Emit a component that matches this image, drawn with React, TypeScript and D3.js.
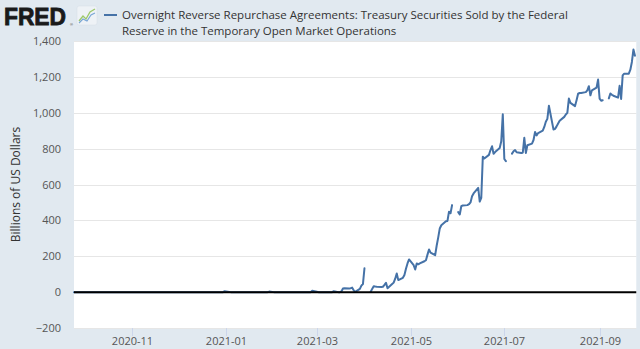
import React from "react";
import * as d3 from "d3";

type Pt = [string, number | null];

// Sep 2020 - Feb 2021: essentially zero, with small quarter/month-end blips
const late2020: Pt[] = [
  ["2020-09-24", 0], ["2020-10-01", 0], ["2020-10-08", 0], ["2020-10-15", 0], ["2020-10-22", 0],
  ["2020-10-29", 0], ["2020-11-05", 0], ["2020-11-12", 0], ["2020-11-19", 0], ["2020-11-27", 0],
  ["2020-12-03", 0], ["2020-12-10", 0], ["2020-12-17", 0], ["2020-12-24", 0], ["2020-12-30", 0],
  ["2020-12-31", 5],
];

const q1_2021: Pt[] = [
  ["2021-01-04", 0], ["2021-01-11", 0], ["2021-01-19", 0], ["2021-01-26", 0], ["2021-01-28", 0],
  ["2021-01-29", 3], ["2021-02-01", 0], ["2021-02-08", 0], ["2021-02-16", 0], ["2021-02-23", 0],
  ["2021-02-25", 0], ["2021-02-26", 8], ["2021-03-01", 2], ["2021-03-02", 0], ["2021-03-09", 0],
  ["2021-03-11", 0], ["2021-03-12", 5], ["2021-03-15", 0], ["2021-03-16", 0], ["2021-03-17", 4],
  ["2021-03-18", 20], ["2021-03-19", 22], ["2021-03-22", 20], ["2021-03-23", 22], ["2021-03-24", 25],
  ["2021-03-25", 10], ["2021-03-26", 1], ["2021-03-29", 18], ["2021-03-30", 36], ["2021-03-31", 45],
];

const apr_may_2021: Pt[] = [
  ["2021-04-01", 133], ["2021-04-02", null],
  ["2021-04-05", 1], ["2021-04-06", 18], ["2021-04-07", 33], ["2021-04-08", 31], ["2021-04-09", 30],
  ["2021-04-12", 29], ["2021-04-13", 30], ["2021-04-14", 40], ["2021-04-15", 52], ["2021-04-16", 22],
  ["2021-04-19", 45], ["2021-04-20", 53], ["2021-04-21", 75], ["2021-04-22", 104], ["2021-04-23", 67],
  ["2021-04-26", 80], ["2021-04-27", 95], ["2021-04-28", 130], ["2021-04-29", 160], ["2021-04-30", 182],
  ["2021-05-03", 150], ["2021-05-04", 126], ["2021-05-05", 160], ["2021-05-06", 155], ["2021-05-07", 160],
  ["2021-05-10", 172], ["2021-05-11", 178], ["2021-05-12", 209], ["2021-05-13", 238], ["2021-05-14", 220],
  ["2021-05-17", 206], ["2021-05-18", 260], ["2021-05-19", 305], ["2021-05-20", 355], ["2021-05-21", 373],
  ["2021-05-24", 395], ["2021-05-25", 397], ["2021-05-26", 448], ["2021-05-27", 440], ["2021-05-28", 485],
  ["2021-05-31", null],
];

const jun_jul_2021: Pt[] = [
  ["2021-06-01", 446], ["2021-06-02", 433], ["2021-06-03", 479], ["2021-06-04", 483],
  ["2021-06-07", 485], ["2021-06-08", 490], ["2021-06-09", 500], ["2021-06-10", 534], ["2021-06-11", 550],
  ["2021-06-14", 581], ["2021-06-15", 505], ["2021-06-16", 525], ["2021-06-17", 755], ["2021-06-18", 745],
  ["2021-06-21", 765], ["2021-06-22", 792], ["2021-06-23", 813], ["2021-06-24", 771], ["2021-06-25", 781],
  ["2021-06-28", 803], ["2021-06-29", 841], ["2021-06-30", 992], ["2021-07-01", 742], ["2021-07-02", 730],
  ["2021-07-05", null],
  ["2021-07-06", 772], ["2021-07-07", 785], ["2021-07-08", 792], ["2021-07-09", 780],
  ["2021-07-12", 776], ["2021-07-13", 777], ["2021-07-14", 860], ["2021-07-15", 776], ["2021-07-16", 819],
  ["2021-07-19", 828], ["2021-07-20", 848], ["2021-07-21", 893], ["2021-07-22", 874], ["2021-07-23", 887],
  ["2021-07-26", 900], ["2021-07-27", 921], ["2021-07-28", 950], ["2021-07-29", 966], ["2021-07-30", 1039],
];

const aug_sep_2021: Pt[] = [
  ["2021-08-02", 906], ["2021-08-03", 910], ["2021-08-04", 924], ["2021-08-05", 940], ["2021-08-06", 955],
  ["2021-08-09", 977], ["2021-08-10", 990], ["2021-08-11", 999], ["2021-08-12", 1079], ["2021-08-13", 1055],
  ["2021-08-16", 1037], ["2021-08-17", 1070], ["2021-08-18", 1106], ["2021-08-19", 1110], ["2021-08-20", 1110],
  ["2021-08-23", 1115], ["2021-08-24", 1125], ["2021-08-25", 1148], ["2021-08-26", 1097], ["2021-08-27", 1125],
  ["2021-08-30", 1140], ["2021-08-31", 1185], ["2021-09-01", 1079], ["2021-09-02", 1067], ["2021-09-03", 1070],
  ["2021-09-06", null],
  ["2021-09-07", 1080], ["2021-09-08", 1107], ["2021-09-09", 1100], ["2021-09-10", 1095],
  ["2021-09-13", 1084], ["2021-09-14", 1150], ["2021-09-15", 1077], ["2021-09-16", 1208], ["2021-09-17", 1218],
  ["2021-09-20", 1218], ["2021-09-21", 1240], ["2021-09-22", 1283], ["2021-09-23", 1352], ["2021-09-24", 1318],
];

const yTicks = [-200, 0, 200, 400, 600, 800, 1000, 1200, 1400];
const xTickDates = ["2020-11-01", "2021-01-01", "2021-03-01", "2021-05-01", "2021-07-01", "2021-09-01"];
const xTickLabels = ["2020-11", "2021-01", "2021-03", "2021-05", "2021-07", "2021-09"];
const xDomain = ["2020-09-24", "2021-09-25"];
const yDomain = [-200, 1400];

const seriesTitle1 = "Overnight Reverse Repurchase Agreements: Treasury Securities Sold by the Federal";
const seriesTitle2 = "Reserve in the Temporary Open Market Operations";
const yAxisTitle = "Billions of US Dollars";

const W = 640;
const H = 349;
const PL = 74, PR = 636.5, PT = 41, PB = 328;
const FONT = "'Open Sans', 'Noto Sans', sans-serif";

export default function App() {
  const parse = d3.utcParse("%Y-%m-%d");
  const data = [...late2020, ...q1_2021, ...apr_may_2021, ...jun_jul_2021, ...aug_sep_2021].map(
    ([d, v]) => ({ date: parse(d) as Date, value: v })
  );
  const x = d3.scaleUtc().domain(xDomain.map((d) => parse(d) as Date)).range([PL, PR]);
  const y = d3.scaleLinear().domain(yDomain).range([PB, PT]);
  const line = d3
    .line<{ date: Date; value: number | null }>()
    .defined((d) => d.value !== null)
    .x((d) => x(d.date))
    .y((d) => y(d.value as number));
  const path = line(data) || "";

  return (
    <svg width={W} height={H} style={{ position: "absolute", left: 0, top: 0 }} fontFamily={FONT}>
      <rect x={0} y={0} width={W} height={H} fill="#e1e9f0" />
      <rect x={PL} y={PT} width={PR - PL} height={PB - PT} fill="#ffffff" />
      {/* gridlines */}
      {yTicks.map((t) => (
        <line key={"g" + t} x1={PL} x2={PR} y1={Math.round(y(t)) + 0.5} y2={Math.round(y(t)) + 0.5} stroke="#e6e6e6" strokeWidth={1} />
      ))}
      {/* x ticks */}
      {xTickDates.map((d, i) => {
        const xx = Math.round(x(parse(d) as Date)) + 0.5;
        return (
          <g key={"x" + d}>
            <line x1={xx} x2={xx} y1={PB} y2={PB + 8} stroke="#ccd6eb" strokeWidth={1} />
            <text x={xx} y={345} textAnchor="middle" fontSize={11} fill="#555">
              {xTickLabels[i]}
            </text>
          </g>
        );
      })}
      {/* y labels */}
      {yTicks.map((t) => (
        <text key={"y" + t} x={61} y={y(t) + 4} textAnchor="end" fontSize={11} fill="#555">
          {d3.format(",")(t)}
        </text>
      ))}
      <text
        transform={`translate(20, ${(PT + PB) / 2}) rotate(-90)`}
        textAnchor="middle"
        fontSize={12}
        fill="#333"
      >
        {yAxisTitle}
      </text>
      {/* series */}
      <path d={path} fill="none" stroke="#4572a7" strokeWidth={2} strokeLinejoin="round" strokeLinecap="round" />
      {/* zero line */}
      <line x1={PL} x2={PR} y1={y(0)} y2={y(0)} stroke="#000" strokeWidth={2} />
      {/* right border strip */}
      <rect x={PR} y={0} width={W - PR} height={H} fill="#e1e9f0" />
      {/* FRED logo */}
      <text x={4} y={25} fontFamily="'Liberation Sans', Arial, sans-serif" fontWeight={900} fontSize={24.5} fill="#1a1a1a" stroke="#1a1a1a" strokeWidth={0.9} textLength={62} lengthAdjust="spacingAndGlyphs">
        FRED
      </text>
      <text x={70} y={26} fontFamily="'Liberation Sans', Arial, sans-serif" fontSize={4} fill="#333">®</text>
      <g>
        <rect x={77} y={6} width={20} height={19} rx={2} fill="#eef2f6" stroke="#d5dde6" strokeWidth={0.5} />
        <polyline points="79,21 83,16 86,19 90,12 95,9" fill="none" stroke="#9cc86a" strokeWidth={1.3} />
        <polyline points="79,23 83,19 87,21 91,15 95,13" fill="none" stroke="#7aa6d6" strokeWidth={1.1} />
      </g>
      {/* legend */}
      <line x1={104} x2={117} y1={15} y2={15} stroke="#4572a7" strokeWidth={2} />
      <text x={122} y={19} fontSize={11.5} fill="#333">
        {seriesTitle1}
      </text>
      <text x={122} y={35} fontSize={11.5} fill="#333">
        {seriesTitle2}
      </text>
    </svg>
  );
}
